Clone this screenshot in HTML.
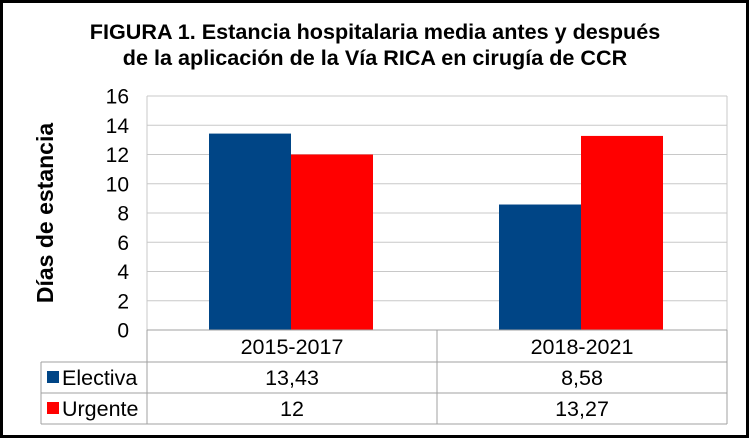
<!DOCTYPE html>
<html><head><meta charset="utf-8"><style>
html,body{margin:0;padding:0;background:#fff}
svg{display:block;font-family:"Liberation Sans",Arial,sans-serif}
</style></head><body>
<svg width="750" height="439" viewBox="0 0 750 439">
<rect x="1.5" y="1.5" width="746" height="435" fill="#fff" stroke="#000" stroke-width="3"/>
<text x="375" y="39" text-anchor="middle" font-size="21.6" font-weight="bold">FIGURA 1. Estancia hospitalaria media antes y después</text>
<text x="375" y="65" text-anchor="middle" font-size="21.6" font-weight="bold">de la aplicación de la Vía RICA en cirugía de CCR</text>
<text transform="translate(53,213) rotate(-90)" text-anchor="middle" font-size="23" font-weight="bold">Días de estancia</text>
<g id="grid"></g><g id="bars"></g><g id="table"></g>
<script>
const categories=["2015-2017","2018-2021"];
const seriesNames=["Electiva","Urgente"];
const electiva=[13.43,8.58];
const urgente=[12,13.27];
const electivaLabels=["13,43","8,58"];
const urgenteLabels=["12","13,27"];
const yTicks=[0,2,4,6,8,10,12,14,16];
const colors=["#004586","#ff0000"];
const NS="http://www.w3.org/2000/svg";
const L=147,R=727,T=96,B=330,yMax=16;
const y=v=>B-(v/yMax)*(B-T);
const cw=(R-L)/categories.length;
function mk(tag,attrs,parent,txt){const e=document.createElementNS(NS,tag);for(const k in attrs)e.setAttribute(k,attrs[k]);if(txt!==undefined)e.textContent=txt;parent.appendChild(e);return e;}
const g=document.getElementById('grid'),bg=document.getElementById('bars'),tg=document.getElementById('table');
yTicks.forEach(t=>{
  const l=mk('line',{x1:L,x2:R,y1:y(t),y2:y(t),stroke:'#c8c8c8','stroke-width':1},g);
  
  
  const tx=mk('text',{x:129,y:y(t)+7.5,'text-anchor':'end','font-size':21},g,String(t));
  
  
});
const pl=mk('line',{x1:L,x2:L,y1:T,y2:B,stroke:'#c8c8c8'},g);


const pr=mk('line',{x1:R,x2:R,y1:T,y2:B,stroke:'#c8c8c8'},g);


const bw=82;
[electiva,urgente].forEach((s,si)=>{
  s.forEach((v,ci)=>{
    const cx=L+cw*ci+cw/2;
    const x=si===0?cx-bw-1:cx-1;
    const r=mk('rect',{x:x,y:y(v),width:bw,height:B-y(v),fill:colors[si]},bg);
    
    
  });
});
const rows=[B,362,393,424];
const TL=41;
const st='#a0a0a0';
[[L,R,B],[TL,R,362],[TL,R,393],[TL,R,424]].forEach(a=>{const l=mk('line',{x1:a[0],x2:a[1],y1:a[2],y2:a[2],stroke:st},tg);});
[[TL,362,424],[L,B,424],[L+cw,B,424],[R,B,424]].forEach(a=>{const l=mk('line',{x1:a[0],x2:a[0],y1:a[1],y2:a[2],stroke:st},tg);});
categories.forEach((c,ci)=>{
  const t=mk('text',{x:L+cw*ci+cw/2,y:354,'text-anchor':'middle','font-size':21.5},tg,c);
  
  
});
[electivaLabels,urgenteLabels].forEach((labs,si)=>{
  const ry=rows[si+1];
  const sw=mk('rect',{x:47,y:ry+9,width:12,height:12,fill:colors[si]},tg);
  
  
  const nt=mk('text',{x:62,y:ry+23,'font-size':21.5},tg,seriesNames[si]);
  
  
  labs.forEach((lab,ci)=>{
    const t=mk('text',{x:L+cw*ci+cw/2,y:ry+23,'text-anchor':'middle','font-size':21.5},tg,lab);
    
    
  });
});
</script>
</svg>
</body></html>
